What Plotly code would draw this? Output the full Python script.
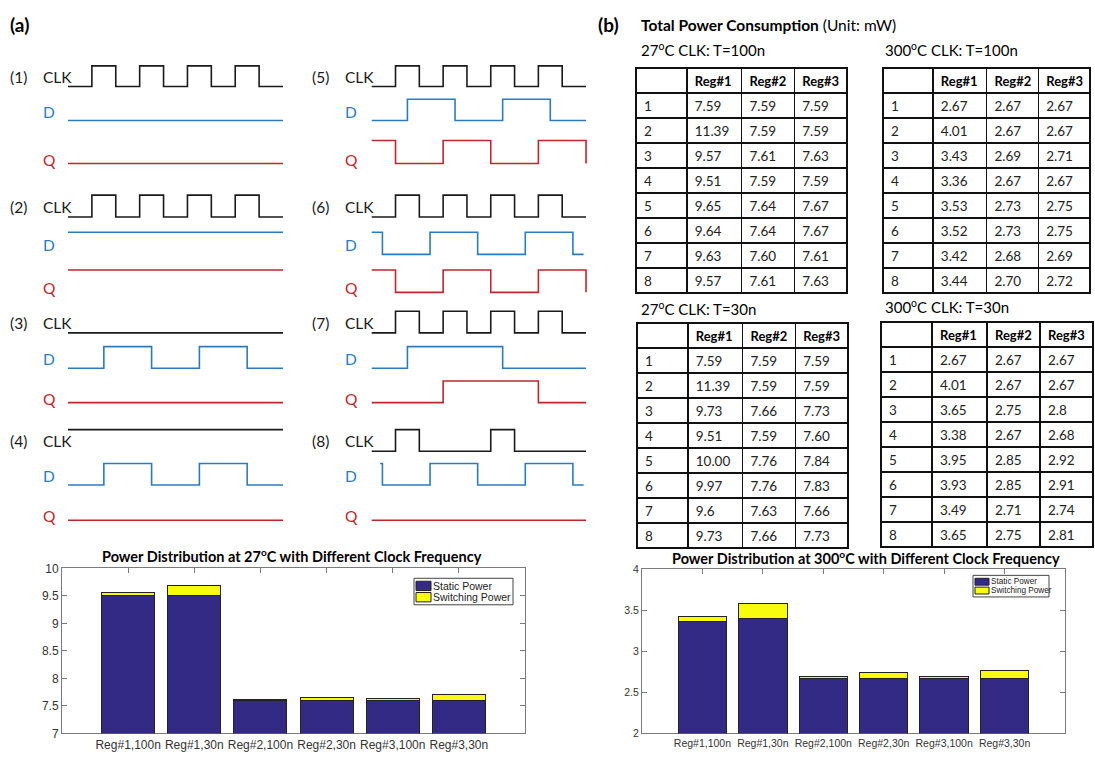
import plotly.graph_objects as go

W, H = 1095, 761


def fx(x):
    return x / W


def fy(y):
    return 1 - y / H


# ---------------- (a) timing diagrams: step signals (time, logic level) ----------------
clk_run_t = [0, 1, 2, 3, 4, 5, 6, 7, 8, 9]
clk_run_v = [0, 1, 0, 1, 0, 1, 0, 1, 0, 0]
clk_two_t = [0, 1, 2, 5, 6, 9]
clk_two_v = [0, 1, 0, 1, 0, 0]
flat_t = [0, 9]
flat_lo = [0, 0]
flat_hi = [1, 1]
d_pulse_t = [0, 1.5, 3.5, 5.5, 7.5, 9]
d_pulse_v = [0, 1, 0, 1, 0, 0]
d_long_t = [0, 1.5, 5.5, 9]
d_long_v = [0, 1, 0, 0]
d_shift_t = [0, 0.45, 2.45, 4.45, 6.45, 8.45, 8.9]
d_shift_v = [1, 0, 1, 0, 1, 0, 0]
d_late_t = [0.35, 0.45, 2.45, 4.45, 6.45, 8.45, 8.9]
d_late_v = [1, 0, 1, 0, 1, 0, 0]
q_toggle_t = [0, 1, 3, 5, 7, 9]
q_toggle_v = [1, 0, 1, 0, 1, 0]
q_long_t = [0, 3, 7, 9]
q_long_v = [0, 1, 0, 0]

case_labels = ["(1)", "(2)", "(3)", "(4)", "(5)", "(6)", "(7)", "(8)"]
case_clk = [(clk_run_t, clk_run_v), (clk_run_t, clk_run_v), (flat_t, flat_lo), (flat_t, flat_hi),
            (clk_run_t, clk_run_v), (clk_run_t, clk_run_v), (clk_run_t, clk_run_v), (clk_two_t, clk_two_v)]
case_d = [(flat_t, flat_lo), (flat_t, flat_hi), (d_pulse_t, d_pulse_v), (d_pulse_t, d_pulse_v),
          (d_pulse_t, d_pulse_v), (d_shift_t, d_shift_v), (d_long_t, d_long_v), (d_late_t, d_late_v)]
case_q = [(flat_t, flat_lo), (flat_t, flat_hi), (flat_t, flat_lo), (flat_t, flat_lo),
          (q_toggle_t, q_toggle_v), (q_toggle_t, q_toggle_v), (q_long_t, q_long_v), (flat_t, flat_lo)]

# ---------------- (b) total power tables (mW) ----------------
state_ids = ["1", "2", "3", "4", "5", "6", "7", "8"]
reg_names = ["Reg#1", "Reg#2", "Reg#3"]
p27_100_reg1 = ["7.59", "11.39", "9.57", "9.51", "9.65", "9.64", "9.63", "9.57"]
p27_100_reg2 = ["7.59", "7.59", "7.61", "7.59", "7.64", "7.64", "7.60", "7.61"]
p27_100_reg3 = ["7.59", "7.59", "7.63", "7.59", "7.67", "7.67", "7.61", "7.63"]
p300_100_reg1 = ["2.67", "4.01", "3.43", "3.36", "3.53", "3.52", "3.42", "3.44"]
p300_100_reg2 = ["2.67", "2.67", "2.69", "2.67", "2.73", "2.73", "2.68", "2.70"]
p300_100_reg3 = ["2.67", "2.67", "2.71", "2.67", "2.75", "2.75", "2.69", "2.72"]
p27_30_reg1 = ["7.59", "11.39", "9.73", "9.51", "10.00", "9.97", "9.6", "9.73"]
p27_30_reg2 = ["7.59", "7.59", "7.66", "7.59", "7.76", "7.76", "7.63", "7.66"]
p27_30_reg3 = ["7.59", "7.59", "7.73", "7.60", "7.84", "7.83", "7.66", "7.73"]
p300_30_reg1 = ["2.67", "4.01", "3.65", "3.38", "3.95", "3.93", "3.49", "3.65"]
p300_30_reg2 = ["2.67", "2.67", "2.75", "2.67", "2.85", "2.85", "2.71", "2.75"]
p300_30_reg3 = ["2.67", "2.67", "2.8", "2.68", "2.92", "2.91", "2.74", "2.81"]

# ---------------- power distribution bars ----------------
bar_labels = ["Reg#1,100n", "Reg#1,30n", "Reg#2,100n", "Reg#2,30n", "Reg#3,100n", "Reg#3,30n"]
bar_pos = [1, 2, 3, 4, 5, 6]
static_27 = [9.51, 9.51, 7.59, 7.59, 7.59, 7.59]
switch_27 = [0.06, 0.18, 0.02, 0.07, 0.04, 0.11]
static_300 = [3.36, 3.40, 2.67, 2.67, 2.67, 2.67]
switch_300 = [0.06, 0.18, 0.02, 0.07, 0.03, 0.10]
series_names = ["Static Power", "Switching Power"]

# ---------------- styling / layout constants ----------------
BODY = "Lato, 'Open Sans', sans-serif"
AXF = "'Liberation Sans', Arial, sans-serif"
C_CLK, C_D, C_Q = "#1a1a1a", "#2a7cc2", "#c0262d"
C_STATIC, C_SWITCH = "#332a86", "#f9fb0e"
EDGE = "#222"

# pixel rows (high, low) of each track in the four diagram rows
row_tracks = [
    {"CLK": (60, 81), "D": (94, 115.7), "Q": (136, 159.5)},
    {"CLK": (191.7, 214), "D": (229.5, 252), "Q": (268, 290.7)},
    {"CLK": (310, 332), "D": (346, 368), "Q": (381, 403)},
    {"CLK": (430.5, 452.5), "D": (465, 487), "Q": (500, 522.8)},
]
col_t0 = [68, 371.7]      # pixel x of t=0 for each column
col_t9 = [283, 586]       # pixel x of t=9
col_num_x = [8, 310]
col_name_x = [41, 343]
PAD_T = 0.25

fig = go.Figure()
annotations = []
shapes = []

for i, lab in enumerate(case_labels):
    col, row = i // 4, i % 4
    xa = "x" if col == 0 else "x2"
    tracks = row_tracks[row]
    for name, sig, color in (("CLK", case_clk[i], C_CLK), ("D", case_d[i], C_D), ("Q", case_q[i], C_Q)):
        hi, lo = tracks[name]
        t, v = sig
        fig.add_trace(go.Scatter(
            x=t, y=[lo - lv * (lo - hi) for lv in v], mode="lines",
            line=dict(color=color, width=1.6, shape="hv"),
            xaxis=xa, yaxis="y", showlegend=False, hoverinfo="skip"))
    clk_hi, clk_lo = tracks["CLK"]
    d_hi, d_lo = tracks["D"]
    q_hi, q_lo = tracks["Q"]
    lab_pos = [(lab, col_num_x[col], clk_lo - 10, C_CLK),
               ("CLK", col_name_x[col], clk_lo - 10, C_CLK),
               ("D", col_name_x[col], (d_hi + d_lo) / 2 + 2, C_D),
               ("Q", col_name_x[col], q_lo - 4, C_Q)]
    for txt, x, y, c in lab_pos:
        annotations.append(dict(text=txt, x=fx(x), y=fy(y), xref="paper", yref="paper",
                                xanchor="left", yanchor="middle", showarrow=False,
                                font=dict(family=BODY, size=15.5, color=c)))


def wave_xaxis(col):
    s = (col_t9[col] - col_t0[col]) / 9
    return dict(domain=[fx(col_t0[col] - PAD_T * s), fx(col_t9[col] + PAD_T * s)],
                range=[-PAD_T, 9 + PAD_T], visible=False, anchor="y", fixedrange=True)


# ---------------- stacked bar charts ----------------
for xa, ya, st, sw in (("x3", "y3", static_27, switch_27), ("x4", "y4", static_300, switch_300)):
    fig.add_trace(go.Bar(x=bar_pos, y=st, name=series_names[0], width=0.8,
                         marker=dict(color=C_STATIC, line=dict(color=EDGE, width=1)),
                         xaxis=xa, yaxis=ya, showlegend=False, hoverinfo="skip"))
    fig.add_trace(go.Bar(x=bar_pos, y=sw, name=series_names[1], width=0.8,
                         marker=dict(color=C_SWITCH, line=dict(color=EDGE, width=1)),
                         xaxis=xa, yaxis=ya, showlegend=False, hoverinfo="skip"))


def bar_axes(x0, x1, y_top, y_bot, yr, dt, fs):
    common = dict(showline=True, linecolor="#7a7a7a", linewidth=1, mirror="ticks",
                  ticks="inside", ticklen=5, tickcolor="#7a7a7a", showgrid=False,
                  zeroline=False, fixedrange=True, layer="below traces",
                  tickfont=dict(family=AXF, size=fs, color="#333"))
    xd = dict(common, domain=[fx(x0), fx(x1)], range=[0, 7], tickvals=bar_pos, ticktext=bar_labels)
    yd = dict(common, domain=[fy(y_bot), fy(y_top)], range=yr, dtick=dt)
    return xd, yd


x3, y3 = bar_axes(62, 525, 572, 740, [7, 10], 0.5, 12)
x4, y4 = bar_axes(642, 1065, 573, 740, [2, 4], 0.5, 10.5)
x3["anchor"], y3["anchor"] = "y3", "x3"
x4["anchor"], y4["anchor"] = "y4", "x4"

for txt, cx, cy in (("<b>Power Distribution at 27<sup>o</sup>C with Different Clock Frequency</b>", 292, 559),
                    ("<b>Power Distribution at 300<sup>o</sup>C with Different Clock Frequency</b>", 866, 561)):
    annotations.append(dict(text=txt, x=fx(cx), y=fy(cy), xanchor="center", yanchor="middle",
                            xref="paper", yref="paper", showarrow=False,
                            font=dict(family=BODY, size=14.5, color="black")))


# MATLAB-style boxed legends (swatch + label per series)
def boxed_legend(x0, x1, y0, y1, sw_w, font_size):
    shapes.append(dict(type="rect", xref="paper", yref="paper", x0=fx(x0), x1=fx(x1),
                       y0=fy(y1), y1=fy(y0), line=dict(color="#444", width=1), fillcolor="white",
                       layer="above"))
    row_h = (y1 - y0 - 4) / 2
    for k, (nm, colr) in enumerate(zip(series_names, (C_STATIC, C_SWITCH))):
        top = y0 + 2 + k * row_h
        shapes.append(dict(type="rect", xref="paper", yref="paper", x0=fx(x0 + 2), x1=fx(x0 + 2 + sw_w),
                           y0=fy(top + row_h - 1), y1=fy(top + 1), fillcolor=colr,
                           line=dict(color=EDGE, width=1), layer="above"))
        annotations.append(dict(text=nm, x=fx(x0 + 2 + sw_w), y=fy(top + row_h / 2), xref="paper",
                                yref="paper", xanchor="left", yanchor="middle", showarrow=False,
                                font=dict(family=AXF, size=font_size, color="#222")))


boxed_legend(414, 513, 582, 609, 15, 10.5)
boxed_legend(973, 1049, 579, 601, 14, 8.2)


# ---------------- tables ----------------
def power_table(x0, x1, y_top, r1, r2, r3):
    return go.Table(
        domain=dict(x=[fx(x0), fx(x1)], y=[fy(y_top + 232), fy(y_top)]),
        columnwidth=[51, 55, 53, 53],
        header=dict(values=[" "] + reg_names, height=25,
                    align="left", fill_color="white",
                    line=dict(color="#111", width=1.5),
                    font=dict(family=BODY, size=13, color="black", weight="bold")),
        cells=dict(values=[state_ids, r1, r2, r3], height=25, align="left",
                   fill_color="white", line=dict(color="#111", width=1.5),
                   font=dict(family=BODY, size=13.5, color="#222")))


fig.add_trace(power_table(636, 847, 62, p27_100_reg1, p27_100_reg2, p27_100_reg3))
fig.add_trace(power_table(883, 1091, 62, p300_100_reg1, p300_100_reg2, p300_100_reg3))
fig.add_trace(power_table(637, 848, 322, p27_30_reg1, p27_30_reg2, p27_30_reg3))
fig.add_trace(power_table(881, 1094, 321, p300_30_reg1, p300_30_reg2, p300_30_reg3))

text_items = [
    ("<b>(a)</b>", 8, 18, 19),
    ("<b>(b)</b>", 596, 18, 19),
    ("<b>Total Power Consumption</b> (Unit: mW)", 639, 18, 15.5),
    ("27<sup>o</sup>C CLK: T=100n", 639, 43, 15),
    ("300<sup>o</sup>C CLK: T=100n", 883, 43, 15),
    ("27<sup>o</sup>C CLK: T=30n", 639, 307, 15),
    ("300<sup>o</sup>C CLK: T=30n", 883, 305, 15),
]
for txt, x, y, fs in text_items:
    annotations.append(dict(text=txt, x=fx(x), y=fy(y), xref="paper", yref="paper",
                            xanchor="left", yanchor="middle", showarrow=False,
                            font=dict(family=BODY, size=fs, color="black")))

fig.update_layout(
    width=W, height=H, margin=dict(l=0, r=0, t=0, b=0),
    paper_bgcolor="white", plot_bgcolor="rgba(0,0,0,0)",
    barmode="stack", bargap=0.2, showlegend=False,
    xaxis=wave_xaxis(0), xaxis2=wave_xaxis(1),
    yaxis=dict(domain=[0, 1], range=[H, 0], visible=False, anchor="x", fixedrange=True),
    xaxis3=x3, yaxis3=y3, xaxis4=x4, yaxis4=y4,
    annotations=annotations, shapes=shapes,
)

fig.write_html("out.html")
